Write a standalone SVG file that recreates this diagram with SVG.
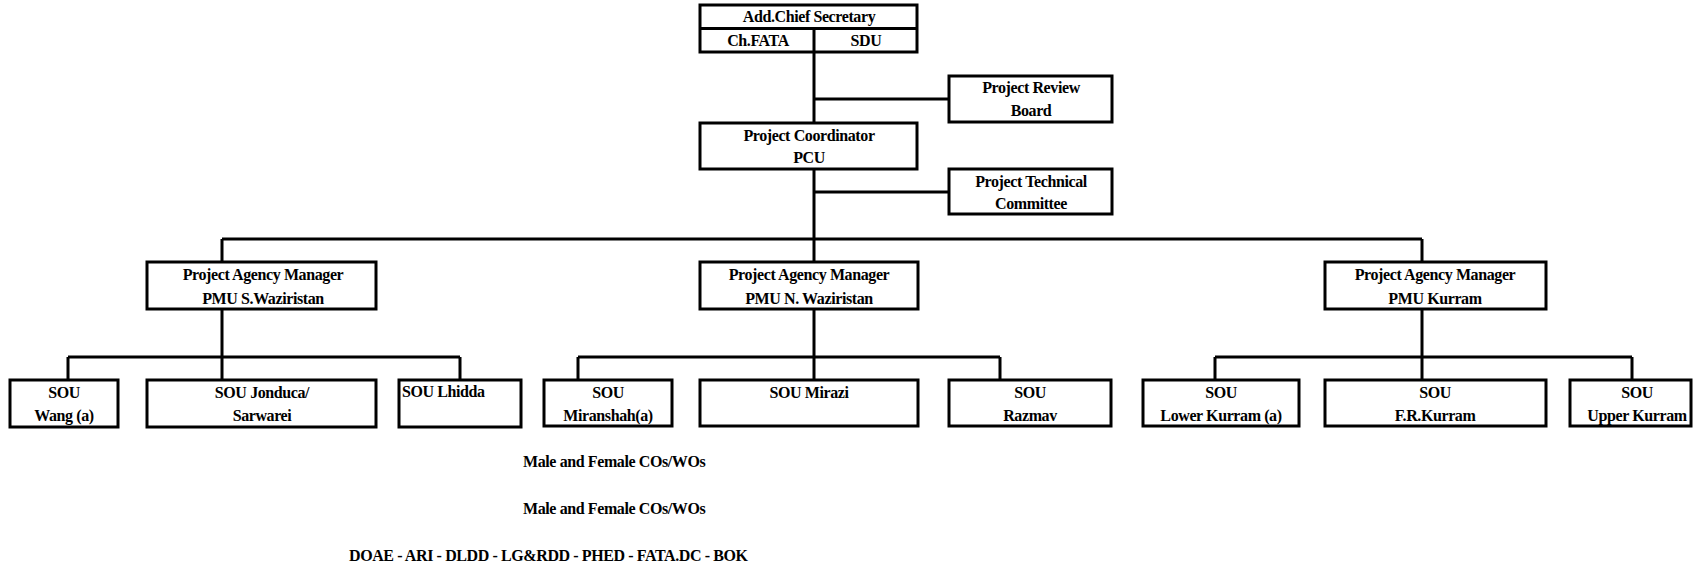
<svg xmlns="http://www.w3.org/2000/svg" width="1693" height="568" viewBox="0 0 1693 568">
<style>
.b{fill:none;stroke:#000;stroke-width:3}
.c{fill:none;stroke:#000;stroke-width:3}
text{font-family:"Liberation Serif","Times New Roman",serif;font-weight:bold;font-size:16px;letter-spacing:-0.4px;fill:#000}
.m{text-anchor:middle}
</style>
<rect width="1693" height="568" fill="#fff"/>
<g id="connectors">
<path class="c" d="M814 52V123M814 99H949M814 169V239M814 192H949"/>
<path class="c" d="M222 239H1422M222 239V262M814 239V262M1422 239V262"/>
<path class="c" d="M222 309V380M68 357H460M68 357V380M460 357V380"/>
<path class="c" d="M814 309V380M578 357H1000M578 357V380M1000 357V380"/>
<path class="c" d="M1422 309V380M1215 357H1632M1215 357V380M1632 357V380"/>
</g>
<g id="acs">
<rect class="b" x="700" y="5" width="217" height="47"/>
<path class="c" d="M700 28.5H917M814 28.5V52"/>
<text class="m" x="809" y="22">Add.Chief Secretary</text>
<text class="m" x="758" y="46">Ch.FATA</text>
<text class="m" x="866" y="46">SDU</text>
</g>
<g id="prb">
<rect class="b" x="949" y="76" width="163" height="46"/>
<text class="m" x="1031" y="93">Project Review</text>
<text class="m" x="1031" y="116">Board</text>
</g>
<g id="pc">
<rect class="b" x="700" y="123" width="217" height="46"/>
<text class="m" x="809" y="141">Project Coordinator</text>
<text class="m" x="809" y="163">PCU</text>
</g>
<g id="ptc">
<rect class="b" x="949" y="169" width="163" height="45"/>
<text class="m" x="1031" y="187">Project Technical</text>
<text class="m" x="1031" y="209">Committee</text>
</g>
<g id="pmu-s">
<rect class="b" x="147" y="262" width="229" height="47"/>
<text class="m" x="263" y="280">Project Agency Manager</text>
<text class="m" x="263" y="304">PMU S.Waziristan</text>
</g>
<g id="pmu-n">
<rect class="b" x="700" y="262" width="218" height="47"/>
<text class="m" x="809" y="280">Project Agency Manager</text>
<text class="m" x="809" y="304">PMU N. Waziristan</text>
</g>
<g id="pmu-k">
<rect class="b" x="1325" y="262" width="221" height="47"/>
<text class="m" x="1435" y="280">Project Agency Manager</text>
<text class="m" x="1435" y="304">PMU Kurram</text>
</g>
<g id="sou-wang">
<rect class="b" x="10" y="380" width="108" height="47"/>
<text class="m" x="64" y="398">SOU</text>
<text class="m" x="64" y="421">Wang (a)</text>
</g>
<g id="sou-jonduca">
<rect class="b" x="147" y="380" width="229" height="47"/>
<text class="m" x="262" y="398">SOU Jonduca/</text>
<text class="m" x="262" y="421">Sarwarei</text>
</g>
<g id="sou-lhidda">
<rect class="b" x="399" y="380" width="122" height="47"/>
<text x="402" y="397">SOU  Lhidda</text>
</g>
<g id="sou-miranshah">
<rect class="b" x="544" y="380" width="128" height="46"/>
<text class="m" x="608" y="398">SOU</text>
<text class="m" x="608" y="421">Miranshah(a)</text>
</g>
<g id="sou-mirazi">
<rect class="b" x="700" y="380" width="218" height="46"/>
<text class="m" x="809" y="398">SOU Mirazi</text>
</g>
<g id="sou-razmav">
<rect class="b" x="949" y="380" width="162" height="46"/>
<text class="m" x="1030" y="398">SOU</text>
<text class="m" x="1030" y="421">Razmav</text>
</g>
<g id="sou-lowerkurram">
<rect class="b" x="1143" y="380" width="156" height="46"/>
<text class="m" x="1221" y="398">SOU</text>
<text class="m" x="1221" y="421">Lower Kurram (a)</text>
</g>
<g id="sou-frkurram">
<rect class="b" x="1325" y="380" width="221" height="46"/>
<text class="m" x="1435" y="398">SOU</text>
<text class="m" x="1435" y="421">F.R.Kurram</text>
</g>
<g id="sou-upperkurram">
<rect class="b" x="1570" y="380" width="121" height="46"/>
<text class="m" x="1637" y="398">SOU</text>
<text class="m" x="1637" y="421">Upper Kurram</text>
</g>
<g id="notes">
<text x="523" y="467">Male and Female COs/WOs</text>
<text x="523" y="514">Male and Female COs/WOs</text>
<text x="349" y="561">DOAE - ARI - DLDD - LG&amp;RDD - PHED - FATA.DC - BOK</text>
</g>
</svg>
